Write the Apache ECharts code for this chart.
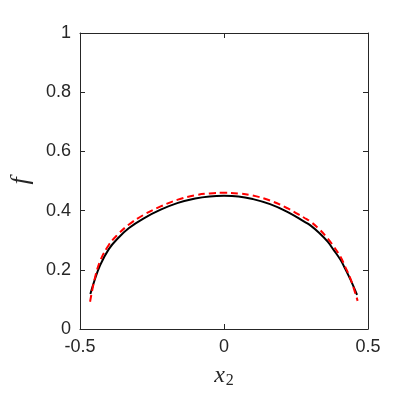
<!DOCTYPE html>
<html>
<head>
<meta charset="utf-8">
<script src="https://cdn.jsdelivr.net/npm/echarts@6/dist/echarts.min.js"></script>
<style>
  html, body { margin: 0; padding: 0; background: #fff; }
  #chart { width: 401px; height: 400px; }
</style>
</head>
<body>
<div id="chart"></div>
<script>
// solid black curve
var blackX = [-0.464, -0.45, -0.43, -0.40, -0.37, -0.33, -0.28, -0.22, -0.16, -0.10, -0.05, 0, 0.05, 0.10, 0.16, 0.22, 0.28, 0.30, 0.33, 0.36, 0.38, 0.405, 0.42, 0.44, 0.462];
var blackY = [0.118, 0.163, 0.216, 0.270, 0.305, 0.341, 0.373, 0.403, 0.426, 0.441, 0.448, 0.450, 0.448, 0.439, 0.422, 0.396, 0.362, 0.350, 0.325, 0.295, 0.268, 0.233, 0.205, 0.165, 0.115];

// red dashed curve
var redX = [-0.465, -0.45, -0.43, -0.40, -0.37, -0.33, -0.28, -0.22, -0.16, -0.10, -0.05, 0, 0.05, 0.10, 0.16, 0.22, 0.28, 0.30, 0.33, 0.36, 0.38, 0.405, 0.42, 0.44, 0.464];
var redY = [0.092, 0.165, 0.230, 0.284, 0.318, 0.353, 0.385, 0.414, 0.437, 0.452, 0.458, 0.460, 0.458, 0.451, 0.434, 0.408, 0.375, 0.363, 0.338, 0.306, 0.280, 0.243, 0.212, 0.168, 0.095];

var xTicks = [-0.5, 0, 0.5];
var yTicks = [0, 0.2, 0.4, 0.6, 0.8, 1];

function pairs(xs, ys) {
  return xs.map(function (x, i) { return [x, ys[i]]; });
}

var chart = echarts.init(document.getElementById('chart'));

var axisColor = '#262626';
var labelStyle = { color: '#262626', fontSize: 18, fontFamily: 'Liberation Sans' };

function boxAxis(type, pos, ticks, step) {
  return {
    type: 'value', min: ticks[0], max: ticks[ticks.length - 1], interval: step,
    position: pos,
    axisLine: { show: true, onZero: false, lineStyle: { color: axisColor, width: 1 } },
    axisTick: { show: true, inside: true, length: 5, lineStyle: { color: axisColor } },
    axisLabel: { show: false },
    splitLine: { show: false }
  };
}

var xBottom = boxAxis('x', 'bottom', xTicks, 0.5);
xBottom.axisLabel = Object.assign({ margin: 9 }, labelStyle);
xBottom.name = '{i|x}{s|2}';
xBottom.nameLocation = 'middle';
xBottom.nameGap = 34;
xBottom.nameTextStyle = {
  rich: {
    i: { fontFamily: 'Liberation Serif', fontStyle: 'italic', fontSize: 24, color: '#262626' },
    s: { fontFamily: 'Liberation Serif', fontSize: 16, color: '#262626', padding: [10, 0, 0, 1] }
  }
};

var yLeft = boxAxis('y', 'left', yTicks, 0.2);
yLeft.axisLabel = Object.assign({ margin: 9 }, labelStyle);
yLeft.name = 'f';
yLeft.nameLocation = 'middle';
yLeft.nameRotate = 90;
yLeft.nameGap = 46;
yLeft.nameTextStyle = { fontFamily: 'Liberation Serif', fontStyle: 'italic', fontSize: 26, color: '#262626' };

chart.setOption({
  animation: false,
  backgroundColor: '#fff',
  grid: { left: 73, right: 33, top: 33, bottom: 71 },
  xAxis: [xBottom, boxAxis('x', 'top', xTicks, 0.5)],
  yAxis: [yLeft, boxAxis('y', 'right', yTicks, 0.2)],
  series: [
    {
      type: 'line',
      data: pairs(blackX, blackY),
      smooth: 0.4,
      showSymbol: false,
      lineStyle: { color: '#000', width: 2 },
      z: 2
    },
    {
      type: 'line',
      data: pairs(redX, redY),
      smooth: 0.4,
      showSymbol: false,
      lineStyle: { color: '#ff0000', width: 2, type: [7, 4] },
      z: 3
    }
  ]
});
</script>
</body>
</html>
